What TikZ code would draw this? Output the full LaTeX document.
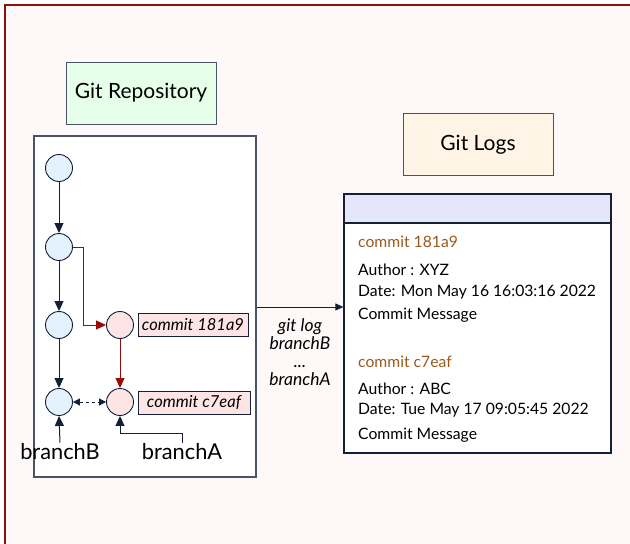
\documentclass[tikz,border=0pt]{standalone}
\usepackage{fontspec}
\setmainfont{Lato}
\usetikzlibrary{arrows.meta}
\definecolor{framered}{HTML}{8B1010}
\definecolor{bgpink}{HTML}{FFF8F8}
\definecolor{navy}{HTML}{142038}
\definecolor{boxgray}{HTML}{4A5266}
\definecolor{cblue}{HTML}{E4F2FD}
\definecolor{cpink}{HTML}{FFE4E6}
\definecolor{redline}{HTML}{990A0A}
\definecolor{greenfill}{HTML}{E6FFE8}
\definecolor{orangefill}{HTML}{FFF4E6}
\definecolor{lavender}{HTML}{E6E6FB}
\definecolor{brown}{HTML}{9A5A1E}
\begin{document}
\begin{tikzpicture}[x=1pt,y=-1pt,
  commitb/.style={circle,draw=navy,fill=cblue,line width=0.9pt,minimum size=27pt,inner sep=0pt},
  commitp/.style={circle,draw=navy,fill=cpink,line width=0.9pt,minimum size=27pt,inner sep=0pt},
  titlebox/.style={draw=boxgray,line width=1pt,minimum width=150pt,minimum height=62pt,font=\fontsize{21}{24}\selectfont,text=black},
  lbl/.style={draw=navy,fill=cpink,line width=0.8pt,font=\fontsize{16.5}{18}\selectfont\itshape,inner sep=1.5pt,minimum height=23pt},
  navyarrow/.style={draw=navy,line width=1pt,-{Triangle[length=10pt,width=9pt]}},
  redarrow/.style={draw=redline,line width=1pt,-{Triangle[length=10pt,width=9pt]}},
  logtxt/.style={anchor=west,font=\fontsize{15.7}{18}\selectfont,inner sep=0pt},
  branchtxt/.style={font=\fontsize{21.8}{24}\selectfont,inner sep=1pt}
]
\useasboundingbox (0,0) rectangle (630,544);
\fill[white] (0,0) rectangle (630,544);
\fill[bgpink] (5,5) rectangle (640,560);
\draw[framered,line width=2.5pt] (5,560) -- (5,5) -- (640,5);

\node[titlebox,fill=greenfill] (repotitle) at (141,93) {Git Repository};
\node[titlebox,fill=orangefill] (logtitle) at (478,144.5) {Git Logs};

\node[draw=boxgray,fill=white,line width=1.2pt,minimum width=222pt,minimum height=341pt,inner sep=0pt] (repo) at (145,306.5) {};

\node[commitb] (c1) at (59,168) {};
\node[commitb] (c2) at (59,247) {};
\node[commitb] (c3) at (59,325) {};
\node[commitb] (c4) at (59,402) {};
\node[commitp] (p1) at (120,325) {};
\node[commitp] (p2) at (120,402) {};

\node[lbl,minimum width=110pt] (l1) at (193,325) {commit 181a9};
\node[lbl,minimum width=112pt] (l2) at (194,402.5) {commit c7eaf};

\draw[navyarrow] (c1) -- (c2);
\draw[navyarrow] (c2) -- (c3);
\draw[navyarrow] (c3) -- (c4);
\draw[redarrow] (c2.east) -- (83,247) |- (p1.west);
\draw[redarrow] (p1) -- (p2);
\draw[draw=navy,line width=1pt,dashed,{Triangle[length=7pt,width=7pt]}-{Triangle[length=7pt,width=7pt]}] (c4) -- (p2);

\node[branchtxt] (bB) at (60,452) {branchB};
\node[branchtxt] (bA) at (182,452) {branchA};
\draw[navyarrow] (bB.north) -- (c4.south);
\coordinate (bend) at (182,433);
\draw[navyarrow] (bA.north) -- (bend) -| (p2.south);

\node[draw=navy,fill=white,line width=1.2pt,minimum width=267pt,minimum height=259pt,inner sep=0pt] (logs) at (477.5,323.5) {};
\node[draw=navy,fill=lavender,line width=1.2pt,minimum width=267pt,minimum height=29pt,inner sep=0pt] (loghead) at (477.5,208.5) {};

\coordinate (ay) at (0,307);
\draw[draw=navy,line width=0.9pt,-{Triangle[length=8pt,width=7pt]}] (repo.east |- ay) -- (logs.west |- ay);
\node[font=\fontsize{17.5}{17.8}\selectfont\itshape,align=center,inner sep=0pt] (gitlog) at (300,352) {git log\\branchB\\...\\branchA};

\node[logtxt,text=brown] (t1) at (358,242) {commit 181a9};
\node[logtxt] (t2) at (358,270) {Author : XYZ};
\node[logtxt] (t3) at (358,292) {Date: Mon May 16 16:03:16 2022};
\node[logtxt] (t4) at (358,315) {Commit Message};
\node[logtxt,text=brown] (t5) at (358,362) {commit c7eaf};
\node[logtxt] (t6) at (358,389) {Author : ABC};
\node[logtxt] (t7) at (358,410) {Date: Tue May 17 09:05:45 2022};
\node[logtxt] (t8) at (358,435) {Commit Message};
\end{tikzpicture}
\end{document}
